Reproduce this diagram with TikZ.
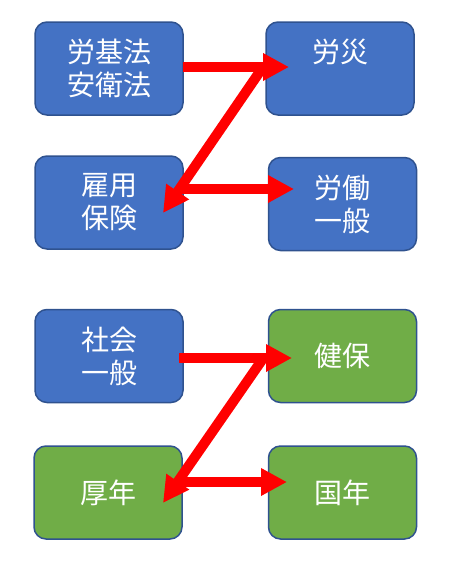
\documentclass[tikz,border=0pt]{standalone}
\usepackage{fontspec}
\newfontfamily\jp{Noto Sans CJK JP}
\usetikzlibrary{arrows.meta}
\definecolor{bluefill}{HTML}{4472C4}
\definecolor{greenfill}{HTML}{70AD47}
\definecolor{boxborder}{HTML}{2F528F}
\tikzset{
  box/.style={draw=boxborder, line width=1.5pt, rounded corners=12pt,
    minimum width=148pt, minimum height=93pt, inner sep=0pt,
    text=white, align=center, font=\jp\fontsize{28}{33}\selectfont},
  bluebox/.style={box, fill=bluefill},
  greenbox/.style={box, fill=greenfill},
  redarrow/.style={draw=red, line width=10pt,
    -{Triangle[length=26pt,width=26pt]}},
}
\begin{document}
\begin{tikzpicture}[x=1pt,y=-1pt]
\useasboundingbox (0,0) rectangle (467,581);
% boxes
\node[bluebox] (b1) at (109,68.5) {労基法\\安衛法};
\node[bluebox] (b2) at (340,68.5) {労災\\\phantom{労災}};
\node[bluebox] (b3) at (109,202.5) {雇用\\保険};
\node[bluebox] (b4) at (342.5,204) {労働\\一般};
\node[bluebox] (b5) at (109,356) {社会\\一般};
\node[greenbox] (b6) at (342.5,356) {健保};
\node[greenbox] (b7) at (108,492.5) {厚年};
\node[greenbox] (b8) at (342.5,492.5) {国年};
% arrow coordinates
\coordinate (s1) at (183,67);
\coordinate (t1) at (289,67);
\coordinate (j1) at (263,67);
\coordinate (t2) at (163,213);
\coordinate (j2) at (182,189);
\coordinate (t3) at (294,189);
\coordinate (s4) at (179,358);
\coordinate (t4) at (292,358);
\coordinate (j3) at (262,360);
\coordinate (t5) at (163,503);
\coordinate (j4) at (182,482);
\coordinate (t6) at (287,482);
% arrows
\draw[redarrow] (j1) -- (t2);
\draw[redarrow] (s1) -- (t1);
\draw[redarrow] (j2) -- (t3);
\draw[redarrow] (j3) -- (t5);
\draw[redarrow] (s4) -- (t4);
\draw[redarrow] (j4) -- (t6);
\end{tikzpicture}
\end{document}
